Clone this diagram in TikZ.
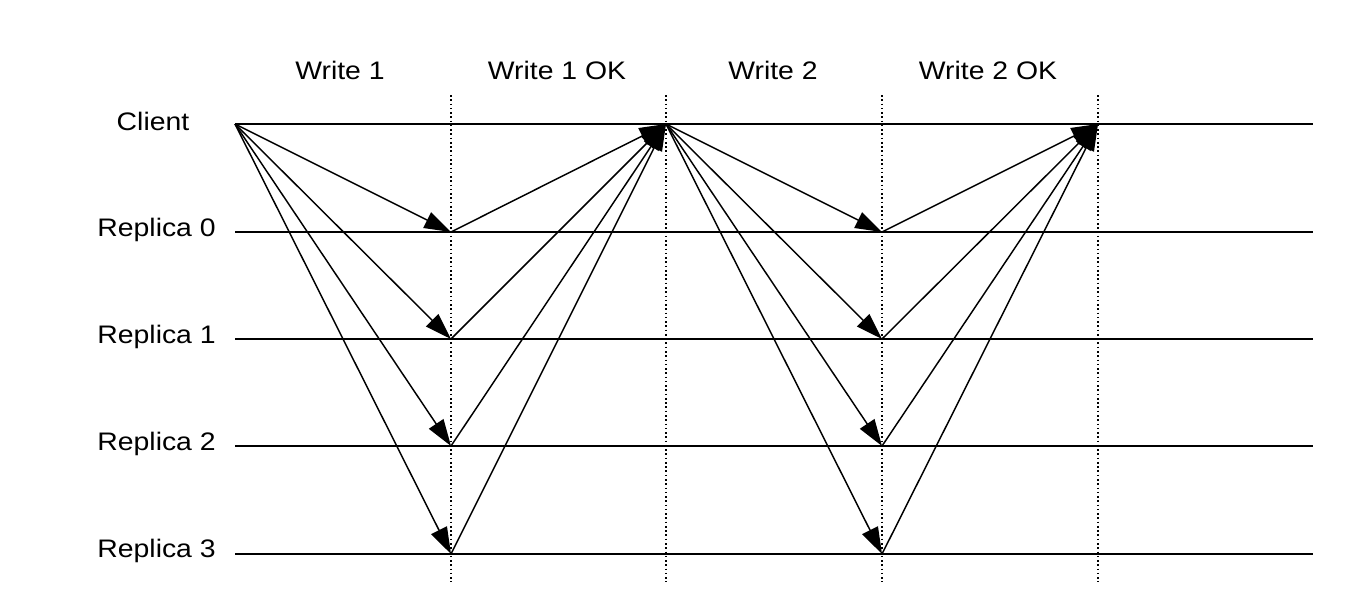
\documentclass[tikz,border=0pt]{standalone}
\usepackage{fontspec}
\setmainfont{Liberation Sans}
\usetikzlibrary{arrows.meta}
\begin{document}
\begin{tikzpicture}[x=0.75pt,y=-0.75pt,
  lane/.style={line width=1.3pt},
  msg/.style={line width=1.1pt,-{Triangle[length=20pt,width=13pt]}},
  sep/.style={line width=1.2pt,dotted},
  lbl/.style={font=\fontsize{19}{21}\selectfont,inner sep=0pt,xscale=1.12}]
\useasboundingbox (0,0) rectangle (1369,608);
\foreach \n/\y in {c/124,r0/232,r1/339,r2/446,r3/554}{
  \coordinate (\n L) at (235,\y);
  \coordinate (\n E) at (1313,\y);
  \draw[lane] (\n L) -- (\n E);
}
\node[lbl,anchor=center] (lc) at (153,121) {Client};
\node[lbl,anchor=east] (l0) at (216,230) {Replica 0};
\node[lbl,anchor=east] (l1) at (216,337) {Replica 1};
\node[lbl,anchor=east] (l2) at (216,444) {Replica 2};
\node[lbl,anchor=east] (l3) at (216,551) {Replica 3};
\foreach \i/\x in {1/451,2/666,3/882,4/1098}{
  \coordinate (t\i) at (\x,95); \coordinate (b\i) at (\x,582);
  \draw[sep] (t\i) -- (b\i);
}
\node[lbl] (h1) at (340,70) {Write 1};
\node[lbl] (h2) at (557,70) {Write 1 OK};
\node[lbl] (h3) at (773,70) {Write 2};
\node[lbl] (h4) at (988,70) {Write 2 OK};
\coordinate (s1) at (235,124); \coordinate (o1) at (666,124); \coordinate (o2) at (1098,124);
\foreach \n/\y in {0/232,1/339,2/446,3/554}{
  \coordinate (a\n) at (451,\y);
  \coordinate (b\n) at (882,\y);
  \draw[msg] (s1) -- (a\n);
  \draw[msg] (a\n) -- (o1);
  \draw[msg] (o1) -- (b\n);
  \draw[msg] (b\n) -- (o2);
}
\end{tikzpicture}
\end{document}
